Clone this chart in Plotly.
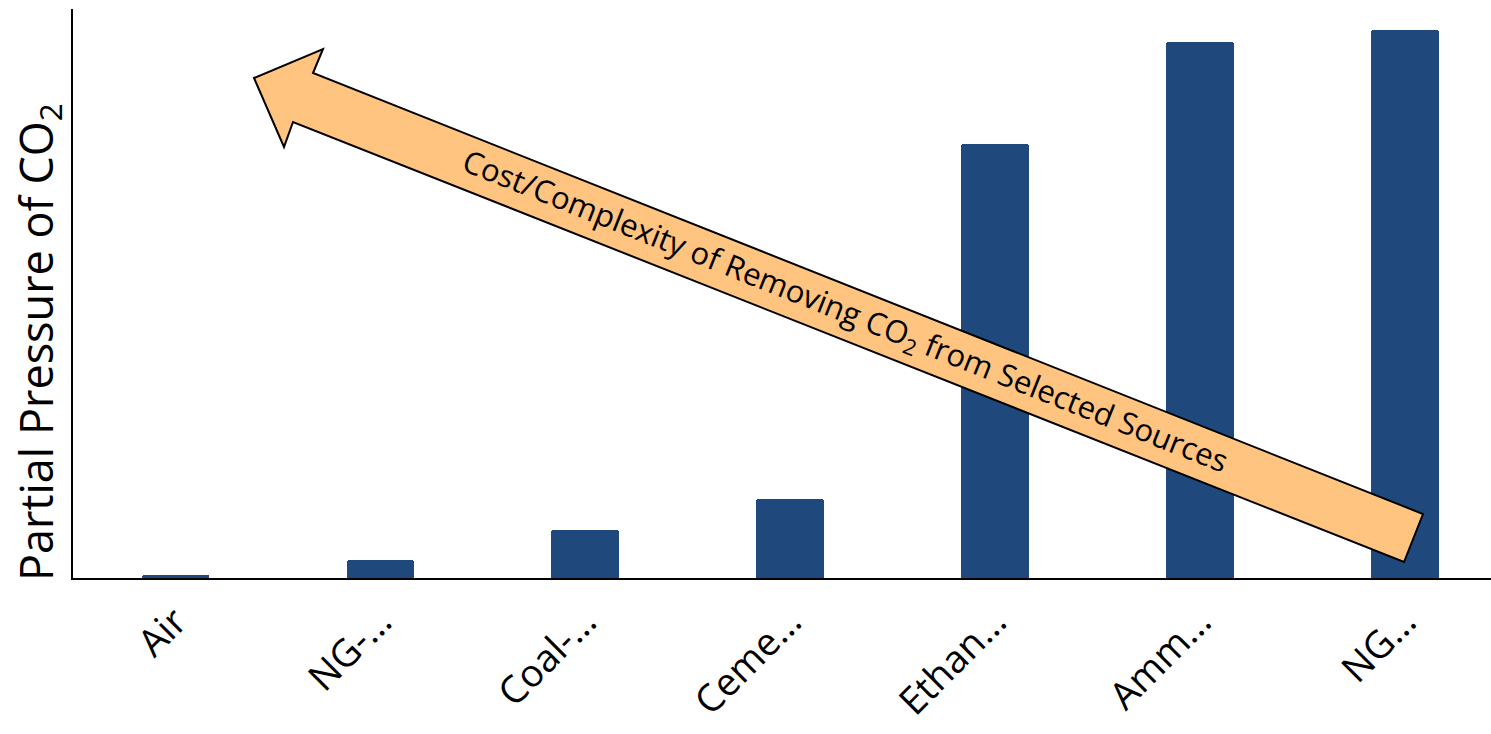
import plotly.graph_objects as go

categories = ["Air", "NG-…", "Coal-…", "Ceme…", "Ethan…", "Amm…", "NG…"]
values = [0.5, 3.3, 8.9, 14.6, 80.0, 99.0, 101.2]

W, H = 1491, 734
ML, MR, MT, MB = 73, 0, 9, 156
PW, PH = W - ML - MR, H - MT - MB

def px(x, y):
    return (x - ML) / PW, (H - MB - y) / PH

# arrow outline (pixel positions in the page)
arrow_px = [(254, 78), (323, 49), (313, 73), (1423, 514), (1404, 562), (293, 122), (284, 147)]
pts = [px(x, y) for x, y in arrow_px]
path = "M " + " L ".join(f"{x:.5f},{y:.5f}" for x, y in pts) + " Z"

fig = go.Figure()
fig.add_trace(go.Bar(
    x=categories, y=values,
    marker=dict(color="#1F497D", cornerradius=3, line=dict(width=0)),
    width=0.33,
))

fig.add_shape(type="path", path=path, xref="paper", yref="paper",
              fillcolor="#FFC47F", line=dict(color="black", width=2), layer="above")

cx, cy = px(845, 312)
fig.add_annotation(
    x=cx, y=cy, xref="paper", yref="paper",
    text="Cost/Complexity of Removing CO<sub>2</sub> from Selected Sources",
    textangle=21.7, showarrow=False,
    font=dict(family="Open Sans", size=31, color="black"),
)

# y-axis title placed like the reference (slightly below the plot centre)
tx, ty = px(38, 342)
fig.add_annotation(
    x=tx, y=ty, xref="paper", yref="paper",
    text="Partial Pressure of CO<sub>2</sub>",
    textangle=-90, showarrow=False, xanchor="center", yanchor="middle",
    font=dict(family="Open Sans", size=45, color="black"),
)

fig.update_layout(
    width=W, height=H,
    margin=dict(l=ML, r=MR, t=MT, b=MB),
    plot_bgcolor="white", paper_bgcolor="white",
    showlegend=False,
    bargap=0,
)
fig.update_xaxes(
    range=[-0.5, 6.42], showline=True, linecolor="black", linewidth=2,
    showgrid=False, ticks="", tickangle=-45, ticklabelstandoff=4,
    automargin=False,
    tickfont=dict(family="Open Sans", size=38, color="black"),
)
fig.update_yaxes(
    range=[0, 105], showline=True, linecolor="black", linewidth=2,
    showgrid=False, zeroline=False, showticklabels=False, ticks="",
    automargin=False,
)

fig.write_html("out.html")
